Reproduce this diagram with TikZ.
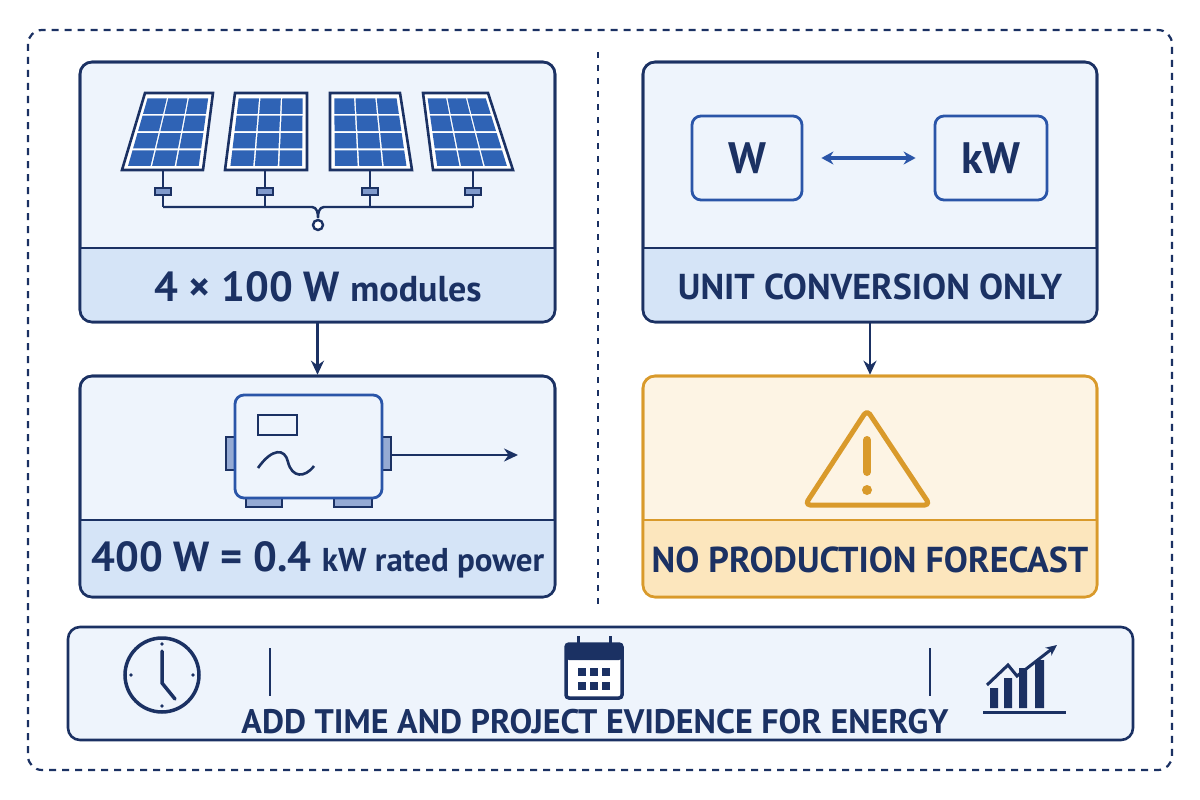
\documentclass[tikz,border=0pt]{standalone}
\usepackage{fontspec}
\setmainfont{PT Sans}
\usetikzlibrary{positioning, calc, arrows.meta}
\definecolor{navy}{HTML}{1B3163}
\definecolor{blueline}{HTML}{2A55A8}
\definecolor{paleblue}{HTML}{EEF4FC}
\definecolor{bandblue}{HTML}{D5E4F7}
\definecolor{cellblue}{HTML}{2F63B5}
\definecolor{warnline}{HTML}{D99A2B}
\definecolor{palewarn}{HTML}{FDF4E4}
\definecolor{bandwarn}{HTML}{FCE6BD}
\tikzset{
  panel/.style={draw=navy, line width=2.6pt, rounded corners=12pt, fill=paleblue, inner sep=0pt},
  warnpanel/.style={panel, draw=warnline, fill=palewarn},
  label/.style={text=navy, font=\bfseries\fontsize{42}{42}\selectfont},
  flow/.style={-{Stealth[length=14pt,width=13pt]}, draw=navy, line width=2.6pt}
}
% solar panel from four corners: tl tr br bl
\newcommand{\solarpanel}[4]{
  \draw[navy, line width=2.6pt, fill=white] #1 -- #2 -- #3 -- #4 -- cycle;
  \foreach \i in {0,1,2}{
    \foreach \j in {0,1,2,3}{
      \pgfmathsetmacro{\ua}{0.06+\i*0.3}\pgfmathsetmacro{\ub}{\ua+0.28}
      \pgfmathsetmacro{\va}{0.07+\j*0.225}\pgfmathsetmacro{\vb}{\va+0.2}
      \fill[cellblue]
        ($ ($#1!\ua!#2$) !\va! ($#4!\ua!#3$) $) --
        ($ ($#1!\ub!#2$) !\va! ($#4!\ub!#3$) $) --
        ($ ($#1!\ub!#2$) !\vb! ($#4!\ub!#3$) $) --
        ($ ($#1!\ua!#2$) !\vb! ($#4!\ua!#3$) $) -- cycle;
    }
  }
}
\begin{document}
\begin{tikzpicture}[x=1pt, y=-1pt]
  \useasboundingbox[fill=white] (0,0) rectangle (1200,800);
  \draw[navy, line width=2.2pt, dash pattern=on 7pt off 6pt, rounded corners=14pt] (28,30) rectangle (1172,770);
  \draw[navy, line width=1.8pt, dash pattern=on 6pt off 7pt] (598,52) -- (598,605);

  % modules
  \node[panel, minimum width=475pt, minimum height=260pt] (modules) at (317.5,192) {};
  \fill[bandblue, rounded corners=11pt] (81,248) rectangle (554,321);
  \fill[bandblue] (81,248) rectangle (554,290);
  \draw[navy, line width=2.6pt, rounded corners=12pt] (80,62) rectangle (555,322);
  \draw[navy, line width=2.6pt] (80,248) -- (555,248);
  \node[label] (modtext) at (318,287) {4 × 100 W {\fontsize{36}{36}\selectfont modules}};
  \solarpanel{(145,93)}{(213,93)}{(203,170)}{(122,170)}
  \solarpanel{(235,93)}{(307,93)}{(307,170)}{(225,170)}
  \solarpanel{(330,93)}{(400,93)}{(412,170)}{(330,170)}
  \solarpanel{(423,93)}{(488,93)}{(513,170)}{(433,170)}
  \foreach \px in {163,265,370,473}{
    \draw[navy, line width=2.4pt] (\px,170) -- (\px,207);
    \draw[navy, line width=1.6pt, fill=blueline!60] (\px-8,188) rectangle (\px+8,195);
  }
  \draw[navy, line width=2.4pt] (163,207) -- (312,207) to[out=0,in=90] (318,218)
    (473,207) -- (324,207) to[out=180,in=90] (318,218);
  \draw[navy, line width=2.4pt, fill=white] (318,225) circle (5pt);

  % inverter
  \node[panel, minimum width=475pt, minimum height=221pt] (inverter) at (317.5,486.5) {};
  \fill[bandblue, rounded corners=11pt] (81,520) rectangle (554,596);
  \fill[bandblue] (81,520) rectangle (554,560);
  \draw[navy, line width=2.6pt, rounded corners=12pt] (80,376) rectangle (555,597);
  \draw[navy, line width=2.6pt] (80,520) -- (555,520);
  \node[label] (invtext) at (318,560) {400 W = 0.4 {\fontsize{33}{33}\selectfont kW rated power}};
  \draw[navy, line width=1.8pt, fill=blueline!50] (226,437) rectangle (236,470);
  \draw[navy, line width=1.8pt, fill=blueline!50] (381,437) rectangle (391,470);
  \draw[navy, line width=1.8pt, fill=blueline!50] (246,497) rectangle (282,507);
  \draw[navy, line width=1.8pt, fill=blueline!50] (334,497) rectangle (372,507);
  \node[draw=blueline, line width=2.8pt, fill=paleblue, rounded corners=9pt, minimum width=147pt, minimum height=103pt] (body) at (308.5,446.5) {};
  \draw[navy, line width=2.6pt] (258,415) rectangle (297,435);
  \draw[navy, line width=2.6pt] (258,468) .. controls (272,448) and (285,448) .. (288,462) .. controls (292,478) and (305,478) .. (314,466);
  \coordinate (acout) at (518,455);
  \draw[flow] (391,455) -- (acout);
  \draw[flow] (modules.south) -- (inverter.north);

  % unit conversion
  \node[panel, minimum width=454pt, minimum height=260pt] (units) at (870,192) {};
  \fill[bandblue, rounded corners=11pt] (644,248) rectangle (1096,321);
  \fill[bandblue] (644,248) rectangle (1096,290);
  \draw[navy, line width=2.6pt, rounded corners=12pt] (643,62) rectangle (1097,322);
  \draw[navy, line width=2.6pt] (643,248) -- (1097,248);
  \node[label, font=\bfseries\fontsize{36}{36}\selectfont] (unittext) at (870,287) {UNIT CONVERSION ONLY};
  \node[draw=blueline, line width=2.8pt, fill=paleblue, rounded corners=9pt, minimum width=110pt, minimum height=84pt, label, font=\bfseries\fontsize{44}{44}\selectfont] (watt) at (747,158) {W};
  \node[draw=blueline, line width=2.8pt, fill=paleblue, rounded corners=9pt, minimum width=112pt, minimum height=84pt, label, font=\bfseries\fontsize{44}{44}\selectfont] (kwatt) at (991,158) {kW};
  \draw[{Stealth[length=12pt,width=13pt]}-{Stealth[length=12pt,width=13pt]}, draw=blueline, line width=3.4pt] ([xshift=18pt]watt.east) -- ([xshift=-18pt]kwatt.west);

  % forecast warning
  \node[warnpanel, minimum width=454pt, minimum height=221pt] (forecast) at (870,486.5) {};
  \fill[bandwarn, rounded corners=11pt] (644,520) rectangle (1096,596);
  \fill[bandwarn] (644,520) rectangle (1096,560);
  \draw[warnline, line width=2.6pt, rounded corners=12pt] (643,376) rectangle (1097,597);
  \draw[warnline, line width=2.6pt] (643,520) -- (1097,520);
  \node[label, font=\bfseries\fontsize{36}{36}\selectfont] (warntext) at (870,560) {NO PRODUCTION FORECAST};
  \draw[warnline, line width=5pt, line join=round, rounded corners=5pt] (867,410) -- (930,505) -- (805,505) -- cycle;
  \draw[warnline, line width=8pt, line cap=round] (867,440) -- (867,472);
  \fill[warnline] (867,490) circle (5pt);
  \draw[flow] (units.south) -- (forecast.north);

  % evidence bar
  \node[panel, minimum width=1065pt, minimum height=113pt] (evidence) at (600.5,683.5) {};
  \node[label, font=\bfseries\fontsize{34}{34}\selectfont] (evtext) at (595,722) {ADD TIME AND PROJECT EVIDENCE FOR ENERGY};
  \draw[navy, line width=3.5pt] (162,675) circle (37pt);
  \draw[navy, line width=3.5pt, line cap=round] (162,651) -- (162,683) -- (175,699);
  \foreach \a in {0,90,180,270}{\fill[navy] ($(162,675)+(\a:31pt)$) circle (1.8pt);}
  \draw[navy, line width=2.4pt] (270,648) -- (270,696) (930,648) -- (930,696);
  \draw[navy, line width=3.5pt, rounded corners=3pt, fill=white] (566,644) rectangle (622,698);
  \fill[navy, rounded corners=3pt] (566,644) rectangle (622,660);
  \foreach \cx in {578,590,602}{\foreach \cy in {668,682}{\fill[navy] (\cx,\cy) rectangle ++(8,8);}}
  \draw[navy, line width=3pt] (578,636) -- (578,650) (610,636) -- (610,650);
  \draw[navy, line width=3pt] (983,712) -- (1066,712);
  \fill[navy] (990,688) rectangle (998,708) (1004,678) rectangle (1012,708) (1019,668) rectangle (1027,708) (1035,660) rectangle (1044,708);
  \draw[navy, line width=3pt, -{Stealth[length=11pt,width=10pt]}] (987,685) -- (1008,665) -- (1017,676) -- (1057,645);
\end{tikzpicture}
\end{document}
